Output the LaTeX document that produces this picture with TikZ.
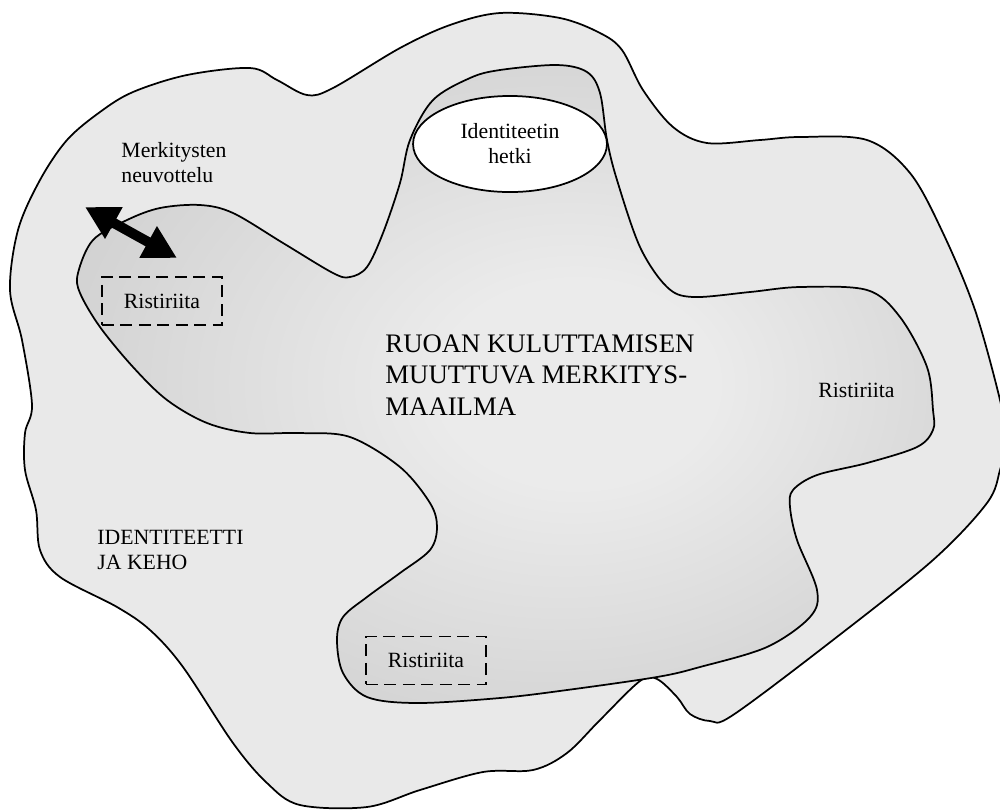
\documentclass[tikz,border=0pt]{standalone}
\usepackage{fontspec}
\setmainfont{Liberation Serif}
\usetikzlibrary{arrows.meta,shapes.geometric}

\definecolor{outerfill}{HTML}{E9E9E9}
\definecolor{innerlight}{HTML}{EBEBEB}
\definecolor{innerdark}{HTML}{C2C2C2}

% light centre fading to darker grey towards the edges of the inner region
\pgfdeclareradialshading{worldshade}{\pgfpoint{5bp}{0bp}}{%
  color(0bp)=(innerlight); color(8bp)=(innerlight);
  color(42bp)=(innerdark); color(50bp)=(innerdark)}

\tikzset{
  region/.style={draw=black, line width=0.8pt},
  smalltext/.style={font=\fontsize{10pt}{11.5pt}\selectfont, inner sep=0pt},
  bigtext/.style={font=\fontsize{12.3pt}{14.3pt}\selectfont, inner sep=0pt},
  conflictbox/.style={draw=black, line width=0.75pt, dash pattern=on 5.5pt off 3pt,
    minimum width=55.2pt, minimum height=22pt, inner sep=0pt,
    font=\fontsize{10pt}{11.5pt}\selectfont},
  momentbubble/.style={ellipse, draw=black, line width=0.8pt, fill=white,
    minimum width=89.2pt, minimum height=44.2pt, inner sep=0pt, align=center,
    font=\fontsize{10pt}{11.5pt}\selectfont},
  negotiate/.style={line width=4.6pt,
    {Triangle[length=15.2pt,width=15.6pt]}-{Triangle[length=15.2pt,width=15.6pt]}}
}

\begin{document}
\begin{tikzpicture}[x=0.46pt, y=-0.46pt]
\useasboundingbox (0,0) rectangle (1000,809);

% outer region: identity and body
\begin{scope}
\clip (0,0) rectangle (1000,809);
\path[region, fill=outerfill] plot[smooth cycle, tension=0.55] coordinates {
  (10,290) (18,230) (40,180) (67,140) (100,112) (133,92) (187,75) (250,68)
  (277,80) (307,95) (333,88) (400,48) (450,25) (500,13) (560,18) (600,33)
  (622,50) (643,90) (673,127) (707,143) (760,140) (800,137) (867,140)
  (910,173) (943,233) (975,310) (1000,400) (1006,440) (1000,470) (987,503)
  (933,560) (833,640) (733,715) (710,721) (690,714) (677,697) (657,679)
  (640,681) (600,720) (567,753) (533,770) (483,772) (420,790) (367,807)
  (300,805) (267,783) (233,743) (183,667) (150,630) (117,607) (60,577)
  (40,550) (36,510) (25,470) (25,433) (32,405) (22,340)};
\end{scope}

% inner region: the changing world of meanings
\path[region, shade, shading=worldshade] plot[smooth cycle, tension=0.55] coordinates {
  (78,273) (93,240) (127,220) (160,208) (200,205) (233,213) (283,243)
  (333,273) (350,277) (367,267) (383,233) (400,183) (410,140) (433,100)
  (470,78) (500,70) (557,65) (587,72) (600,93) (607,140) (617,180)
  (640,247) (667,287) (693,297) (750,292) (800,287) (867,290) (900,317)
  (927,367) (933,410) (933,430) (917,447) (867,463) (817,475) (793,490)
  (790,507) (797,540) (817,590) (810,617) (767,647) (700,667) (657,677)
  (567,690) (500,698) (417,703) (367,697) (343,673) (337,640) (343,617)
  (367,597) (400,573) (430,550) (437,527) (430,503) (400,467) (350,437)
  (300,433) (250,433) (207,423) (167,400) (133,367) (100,327) (80,293)};

% moment of identity
\node[momentbubble] (moment) at (510,144) {Identiteetin\\hetki};

% labels (base anchors sit on the last line of each block)
\node[smalltext, anchor=base west, align=left] (negotiation) at (121,182)
  {Merkitysten\\neuvottelu};
\node[bigtext, anchor=base west, align=left] (world) at (385,415)
  {RUOAN KULUTTAMISEN\\MUUTTUVA MERKITYS-\\MAAILMA};
\node[smalltext, anchor=base west, align=left] (identity) at (97,569)
  {IDENTITEETTI\\JA KEHO};
\node[smalltext, anchor=base west] (conflictright) at (818,397) {Ristiriita};

% dashed conflict boxes
\node[conflictbox] (conflictleft) at (162,301) {Ristiriita};
\node[conflictbox] (conflictbottom) at (426,660.5) {Ristiriita};

% two-way negotiation arrow
\coordinate (negout) at (85,207);
\coordinate (negin) at (177,258);
\draw[negotiate] (negout) -- (negin);
\end{tikzpicture}
\end{document}
